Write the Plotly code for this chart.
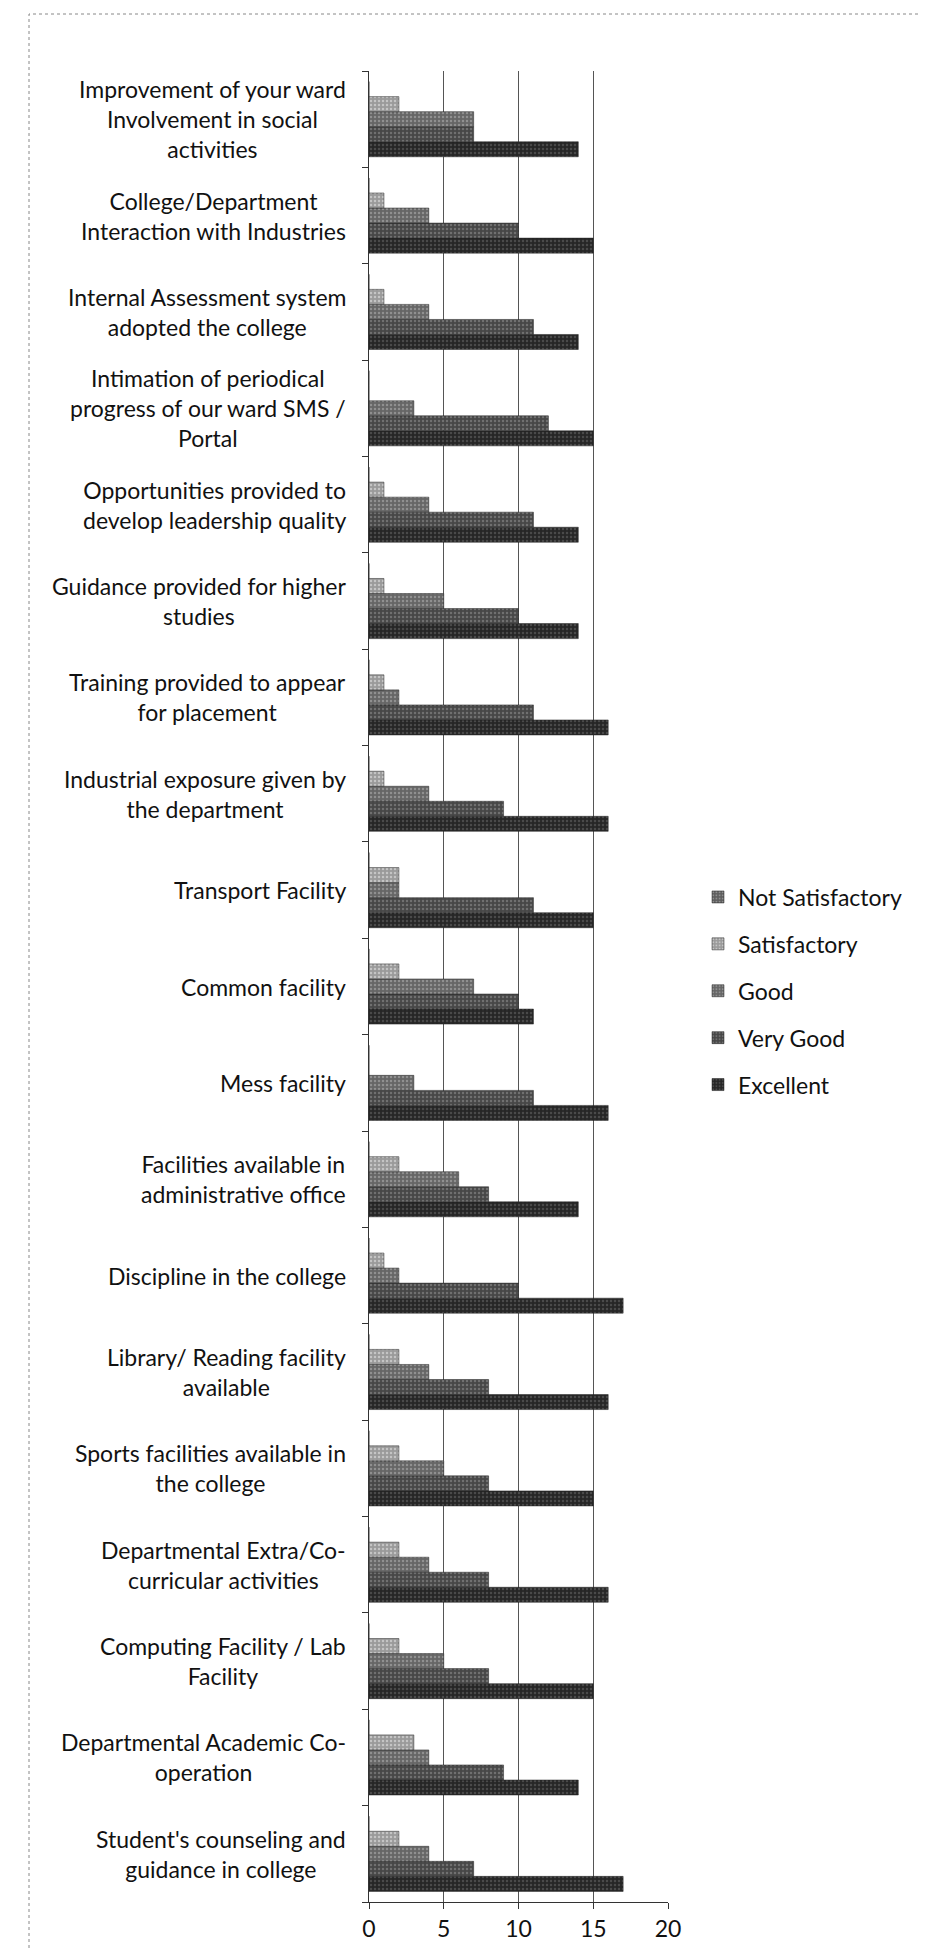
import plotly.graph_objects as go

# Categories listed bottom-to-top (Plotly's category order)
categories = [
    "Student's counseling and<br>guidance in college",
    "Departmental Academic Co-<br>operation",
    "Computing Facility / Lab<br>Facility",
    "Departmental Extra/Co-<br>curricular activities",
    "Sports facilities available in<br>the college",
    "Library/ Reading facility<br>available",
    "Discipline in the college",
    "Facilities available in<br>administrative office",
    "Mess facility",
    "Common facility",
    "Transport Facility",
    "Industrial exposure given by<br>the department",
    "Training provided to appear<br>for placement",
    "Guidance provided for higher<br>studies",
    "Opportunities provided to<br>develop leadership quality",
    "Intimation of periodical<br>progress of our ward SMS /<br>Portal",
    "Internal Assessment system<br>adopted the college",
    "College/Department<br>Interaction with Industries",
    "Improvement of your ward<br>Involvement in social<br>activities",
]

not_satisfactory = [0, 0, 0, 0, 0, 0, 0, 0, 0, 0, 0, 0, 0, 0, 0, 0, 0, 0, 0]
satisfactory     = [2, 3, 2, 2, 2, 2, 1, 2, 0, 2, 2, 1, 1, 1, 1, 0, 1, 1, 2]
good             = [4, 4, 5, 4, 5, 4, 2, 6, 3, 7, 2, 4, 2, 5, 4, 3, 4, 4, 7]
very_good        = [7, 9, 8, 8, 8, 8, 10, 8, 11, 10, 11, 9, 11, 10, 11, 12, 11, 10, 7]
excellent        = [17, 14, 15, 16, 15, 16, 17, 14, 16, 11, 15, 16, 16, 14, 14, 15, 14, 15, 14]

x_ticks = [0, 5, 10, 15, 20]

W, H = 927, 1951
L, R, T, B = 361, 660, 63, 1894

FONT = "Lato"

# (name, values, base colour, dot colour, legend rank)
series = [
    ("Excellent", excellent, "#262626", "#4a4a4a", 5),
    ("Very Good", very_good, "#474747", "#707070", 4),
    ("Good", good, "#666666", "#909090", 3),
    ("Satisfactory", satisfactory, "#9a9a9a", "#c4c4c4", 2),
    ("Not Satisfactory", not_satisfactory, "#5e5e5e", "#8e8e8e", 1),
]

fig = go.Figure()
for name, vals, base, dots, rank in series:
    fig.add_trace(go.Bar(
        y=categories, x=vals, name=name, orientation="h",
        legendgroup=name, legendrank=rank,
        marker=dict(color=base,
                    line=dict(color="#222222", width=0.5),
                    pattern=dict(shape=".", fgcolor=dots, bgcolor=base,
                                 size=4, solidity=0.3, fillmode="replace")),
    ))

pw = R - L
ph = B - T
def px_x(p):
    return (p - L) / pw
def px_y(p):
    return (B - p) / ph

annotations = []
for c in categories:
    annotations.append(dict(
        x=px_x(340), xref="paper", y=c, yref="y",
        text=c, showarrow=False, xanchor="right", yanchor="middle",
        align="center", font=dict(family=FONT, size=23, color="#111111"),
    ))

shapes = [dict(type="rect", xref="paper", yref="paper",
               x0=px_x(21), x1=px_x(925), y0=px_y(1949), y1=px_y(6),
               line=dict(color="#888888", width=1, dash="dot"))]

fig.update_layout(
    width=W, height=H,
    margin=dict(l=L, r=W - R, t=T, b=H - B),
    paper_bgcolor="white", plot_bgcolor="white",
    barmode="group", bargap=0.22, bargroupgap=0,
    font=dict(family=FONT, size=23, color="#111111"),
    legend=dict(x=px_x(690), y=px_y(983), xanchor="left", yanchor="middle",
                traceorder="grouped", tracegroupgap=14,
                font=dict(family=FONT, size=23, color="#111111"),
                bgcolor="rgba(0,0,0,0)"),
    annotations=annotations,
    shapes=shapes,
    showlegend=True,
)
fig.update_xaxes(range=[0, 20], tickvals=x_ticks, ticktext=[str(v) for v in x_ticks],
                 showgrid=True, gridcolor="#555555", gridwidth=1,
                 showline=True, linecolor="#333333", linewidth=1,
                 ticks="outside", ticklen=6, tickcolor="#333333",
                 tickfont=dict(family=FONT, size=23, color="#111111"),
                 zeroline=False, fixedrange=True)
fig.update_yaxes(showticklabels=False, showgrid=False,
                 showline=True, linecolor="#333333", linewidth=1,
                 ticks="outside", tickson="boundaries", ticklen=6, tickcolor="#333333",
                 zeroline=False, fixedrange=True)

fig.write_html("out.html")
